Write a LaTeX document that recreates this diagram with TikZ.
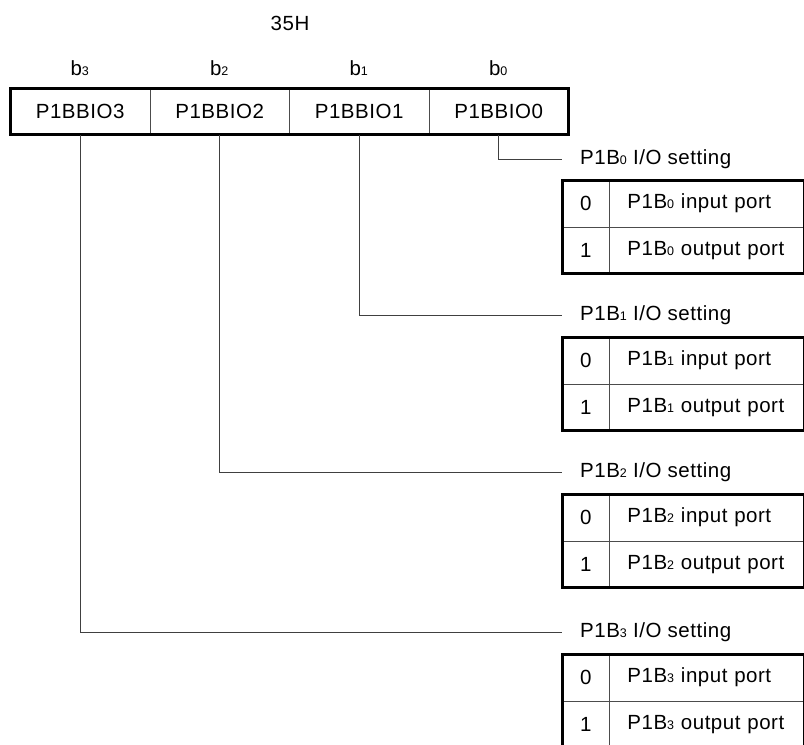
\documentclass[tikz,border=0pt]{standalone}
\usepackage{fontspec}
\setmainfont[LetterSpace=2.5]{Liberation Sans}
\newcommand{\sbx}[1]{{\fontsize{12.5}{13}\selectfont #1}}
\begin{document}
\begin{tikzpicture}[x=1pt,y=-1pt,
  txt/.style={font=\fontsize{20.5}{24}\selectfont, inner sep=0pt},
  regcell/.style={txt, draw=black!70, line width=0.8pt, minimum width=139.5pt, minimum height=46pt, anchor=north west},
  keycell/.style={txt, draw=black!70, line width=0.8pt, minimum width=47pt, minimum height=46.5pt, anchor=north west},
  valcell/.style={txt, draw=black!70, line width=0.8pt, text width=159pt, inner xsep=18pt, minimum height=46.5pt, align=left, anchor=north west},
  thickframe/.style={draw=black, line width=3pt},
  conn/.style={draw=black!75, line width=0.8pt},
  setlab/.style={txt, anchor=west}]
\clip (0,0) rectangle (804,745);
\useasboundingbox (0,0) rectangle (804,745);

% address
\node[txt] (addr) at (290,23) {35H};

% bit labels
\node[txt] (b3) at (79.75,68) {b\sbx{3}};
\node[txt] (b2) at (219.25,68) {b\sbx{2}};
\node[txt] (b1) at (358.75,68) {b\sbx{1}};
\node[txt] (b0) at (498.25,68) {b\sbx{0}};

% register
\node[regcell] (c3) at (10,88) {P1BBIO3};
\node[regcell] (c2) at (149.5,88) {P1BBIO2};
\node[regcell] (c1) at (289,88) {P1BBIO1};
\node[regcell] (c0) at (428.5,88) {P1BBIO0};
\draw[thickframe] (c3.north west) rectangle (c0.south east);

% setting labels
\node[setlab] (s0) at (580,159) {P1B\sbx{0} I/O setting};
\node[setlab] (s1) at (580,315) {P1B\sbx{1} I/O setting};
\node[setlab] (s2) at (580,472) {P1B\sbx{2} I/O setting};
\node[setlab] (s3) at (580,632) {P1B\sbx{3} I/O setting};

% connectors
\draw[conn] (c0.south) |- ([xshift=-18pt]s0.west);
\draw[conn] (c1.south) |- ([xshift=-18pt]s1.west);
\draw[conn] (c2.south) |- ([xshift=-18pt]s2.west);
\draw[conn] (c3.south) |- ([xshift=-18pt]s3.west);

% table 0
\node[keycell] (k0a) at (562,180) {0};
\node[valcell] (v0a) at (609,180) {P1B\sbx{0} input port};
\node[keycell] (k0b) at (562,226.5) {1};
\node[valcell] (v0b) at (609,226.5) {P1B\sbx{0} output port};
\draw[thickframe] (k0a.north west) rectangle (v0b.south east);

% table 1
\node[keycell] (k1a) at (562,337) {0};
\node[valcell] (v1a) at (609,337) {P1B\sbx{1} input port};
\node[keycell] (k1b) at (562,383.5) {1};
\node[valcell] (v1b) at (609,383.5) {P1B\sbx{1} output port};
\draw[thickframe] (k1a.north west) rectangle (v1b.south east);

% table 2
\node[keycell] (k2a) at (562,494) {0};
\node[valcell] (v2a) at (609,494) {P1B\sbx{2} input port};
\node[keycell] (k2b) at (562,540.5) {1};
\node[valcell] (v2b) at (609,540.5) {P1B\sbx{2} output port};
\draw[thickframe] (k2a.north west) rectangle (v2b.south east);

% table 3 (cut at the bottom)
\node[keycell] (k3a) at (562,654) {0};
\node[valcell] (v3a) at (609,654) {P1B\sbx{3} input port};
\node[keycell] (k3b) at (562,700.5) {1};
\node[valcell] (v3b) at (609,700.5) {P1B\sbx{3} output port};
\draw[thickframe] (k3a.north west) rectangle (v3b.south east);
\end{tikzpicture}
\end{document}
